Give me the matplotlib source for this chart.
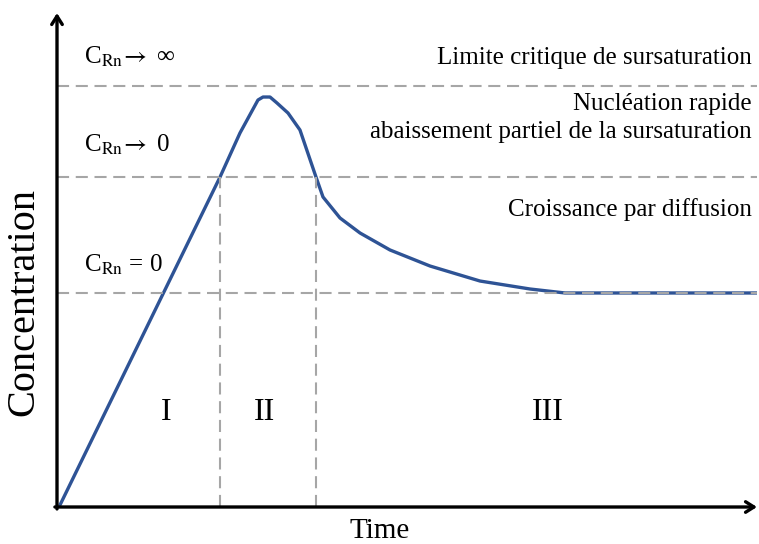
import matplotlib
matplotlib.use("Agg")
import matplotlib.pyplot as plt

plt.rcParams['font.family'] = ['Liberation Serif', 'DejaVu Serif']
plt.rcParams['mathtext.fontset'] = 'stix'

# Curve (arbitrary units: time 0..100, concentration 0..100)
time = [0.43, 23.29, 26.14, 28.71, 29.43, 30.43, 31.43, 33.0, 34.71, 37.0,
        38.0, 40.43, 43.29, 47.57, 53.29, 60.43, 67.57, 72.57, 100.0]
conc = [0.41, 67.07, 76.02, 82.72, 83.33, 83.33, 82.11, 80.08, 76.63, 67.07,
        63.01, 58.74, 55.69, 52.24, 48.98, 45.93, 44.31, 43.50, 43.50]

# Threshold levels
levels = [85.6, 67.07, 43.5]
stage_bounds = [23.29, 37.0]

level_labels = [r'C$_{\mathrm{Rn}}\!\rightarrow$ ∞',
                r'C$_{\mathrm{Rn}}\!\rightarrow$ 0',
                r'C$_{\mathrm{Rn}}$ = 0']
level_label_y = [90.2, 72.2, 47.8]
right_texts = ['Limite critique de sursaturation', 'Nucléation rapide',
               'abaissement partiel de la sursaturation', 'Croissance par diffusion']
right_text_y = [90.0, 80.7, 75.0, 59.1]
stages = ['I', 'II', 'III']
stage_x = [15.6, 29.7, 70.1]

fig = plt.figure(figsize=(7.59, 5.44), dpi=100)
ax = fig.add_axes([57/759, 37/544, 700/759, 492/544])
ax.set_xlim(0, 100)
ax.set_ylim(0, 100)
for s in ax.spines.values():
    s.set_visible(False)
ax.set_xticks([])
ax.set_yticks([])

ax.plot(time, conc, color='#2E5395', lw=2.4, zorder=2, solid_capstyle='round',
        solid_joinstyle='round')

dash_kw = dict(color='#A6A6A6', lw=1.5, dashes=(5.8, 3.2), zorder=3)
for lv in levels:
    ax.plot([0, 100], [lv, lv], **dash_kw)
for b in stage_bounds:
    ax.plot([b, b], [0, levels[1]], **dash_kw)

# axes arrows
ap = dict(arrowstyle='->,head_length=0.6,head_width=0.38', lw=2.4, color='black',
          shrinkA=0, shrinkB=0)
ax.annotate('', xy=(1.0, 0), xytext=(-0.003, 0), xycoords='axes fraction',
            arrowprops=ap, annotation_clip=False)
ax.annotate('', xy=(0, 1.004), xytext=(0, -0.004), xycoords='axes fraction',
            arrowprops=ap, annotation_clip=False)

for t, y in zip(level_labels, level_label_y):
    ax.text(3.86, y, t, fontsize=18, ha='left', va='baseline')
for t, y in zip(right_texts, right_text_y):
    ax.text(99.3, y, t, fontsize=18, ha='right', va='baseline')
for t, x in zip(stages, stage_x):
    ax.text(x, 19.3, t, fontsize=23, ha='center', va='center')

ax.text(46.07, -4.8, 'Time', fontsize=21, ha='center', va='center', clip_on=False)
fig.text(24/759, 1 - 302/544, 'Concentration', fontsize=29, rotation=90,
         ha='center', va='center')

fig.savefig('out.png', dpi=100)
